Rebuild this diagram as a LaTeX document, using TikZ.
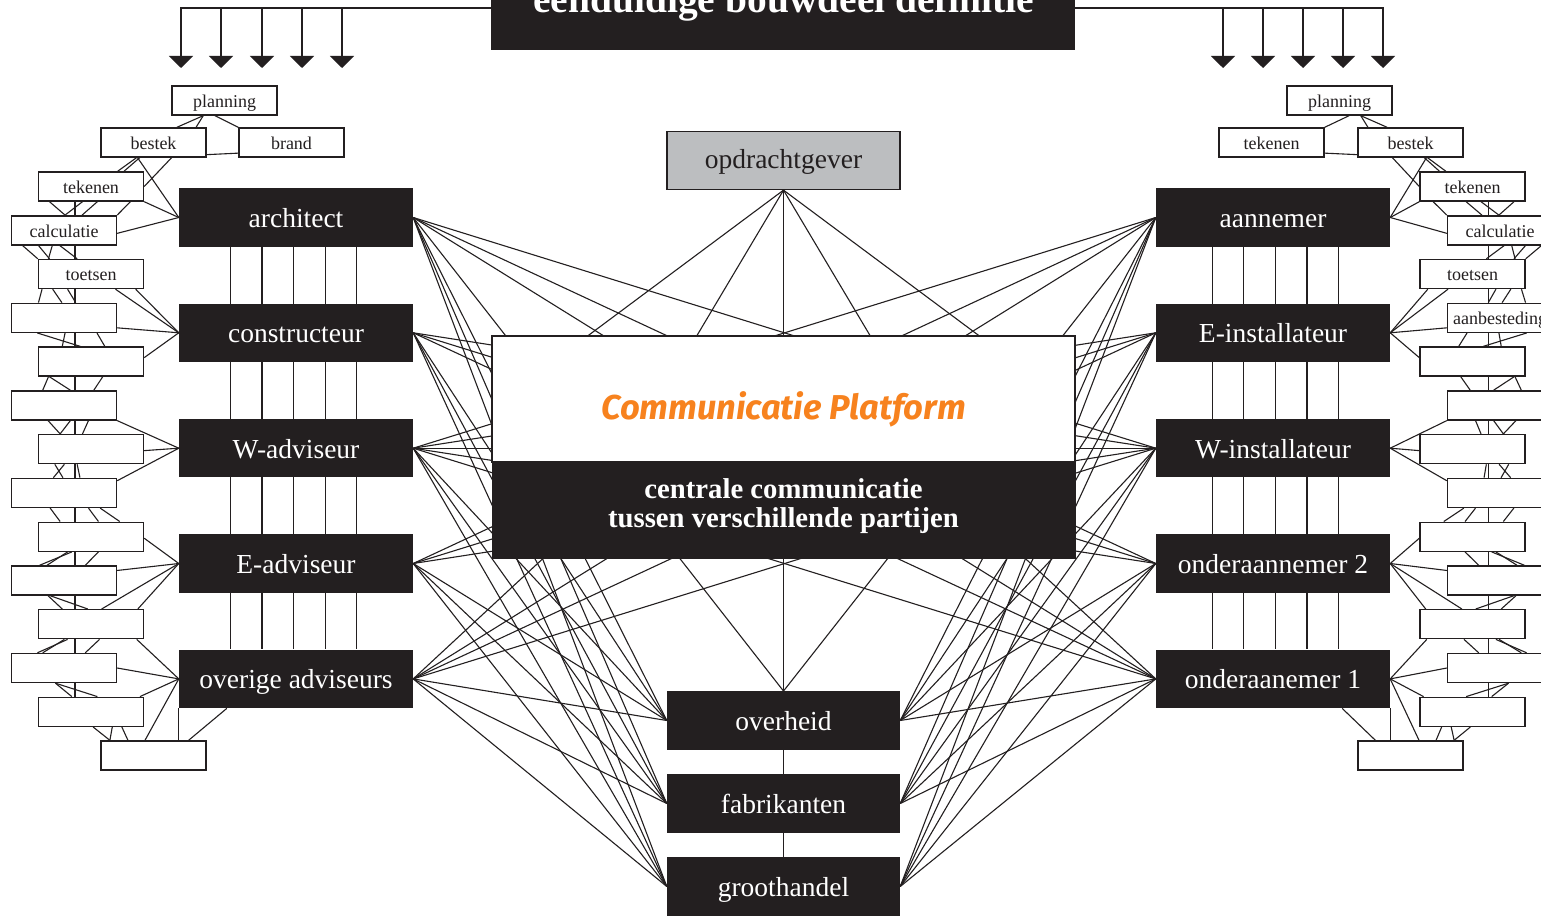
\documentclass[tikz,border=0pt]{standalone}
\usepackage{fontspec}
\setmainfont{Liberation Serif}
\newfontfamily\firafont{Fira Sans}
\usetikzlibrary{arrows.meta,calc}
\definecolor{ink}{HTML}{231F20}
\definecolor{grayfill}{HTML}{BCBEC0}
\definecolor{orng}{HTML}{F7821E}
\pgfdeclarelayer{bg}
\pgfsetlayers{bg,main}
\def\sW{west}\def\sE{east}
\newcommand\lnkS[4]{\draw[wire] ($(#1.south \sW)!#2!(#1.south \sE)$) -- ($(#3.north \sW)!#4!(#3.north \sE)$);}
\newcommand\fanS[3]{\draw[wire] ($(#1.north \sE)!#2!(#1.south \sE)$) -- (#3.\sW);}
\newcommand\fanB[3]{\draw[wire] ($(#1.south \sW)!#2!(#1.south \sE)$) -- (#3.\sW);}
\newcommand\fanT[3]{\draw[wire] ($(#1.north \sW)!#2!(#1.north \sE)$) -- (#3.\sW);}
\newcommand\sidegroup[1]{%
 \lnkS{#1p}{0.30}{#1o}{0.72}
 \lnkS{#1p}{0.30}{#1o}{0.90}
 \lnkS{#1p}{0.41}{#1i}{0.0}
 \draw[wire] ($(#1o.north \sE)!0.9!(#1o.south \sE)$) -- ($(#1i.north \sW)!0.85!(#1i.south \sW)$);
 \lnkS{#1o}{0.34}{#1s1}{0.75}
 \lnkS{#1o}{0.37}{#1s1}{0.81}
 \draw[wire] ($(#1o.south \sW)!0.67!(#1o.south \sE)$) -- ($(#1s1.north \sE)!0.5!(#1s1.south \sE)$);
 \fanB{#1o}{0.35}{#1B1}
 \draw[wire] ($(#1s1.south \sW)!0.35!(#1s1.south \sE)$) -- ($(#1s13.north \sW)!0.35!(#1s13.north \sE)$);
 \lnkS{#1s1}{0.11}{#1s2}{0.51}
 \lnkS{#1s1}{0.42}{#1s2}{0.51}
 \lnkS{#1s1}{0.56}{#1s2}{0.67}
 \lnkS{#1s1}{0.87}{#1s2}{1.0}
 \lnkS{#1s2}{0.11}{#1s3}{0.0}
 \lnkS{#1s2}{0.26}{#1s3}{0.11}
 \lnkS{#1s2}{0.39}{#1s3}{0.10}
 \lnkS{#1s2}{0.46}{#1s3}{0.37}
 \lnkS{#1s3}{0.04}{#1s4}{0.26}
 \lnkS{#1s3}{0.14}{#1s4}{0.48}
 \lnkS{#1s3}{0.28}{#1s4}{0.61}
 \lnkS{#1s4}{0.25}{#1s5}{0.40}
 \lnkS{#1s4}{0.51}{#1s5}{0.23}
 \lnkS{#1s4}{0.81}{#1s5}{0.63}
 \lnkS{#1s5}{0.10}{#1s6}{0.30}
 \lnkS{#1s5}{0.11}{#1s6}{0.56}
 \lnkS{#1s5}{0.61}{#1s6}{0.78}
 \lnkS{#1s6}{0.35}{#1s7}{0.21}
 \lnkS{#1s6}{0.56}{#1s7}{0.21}
 \lnkS{#1s6}{0.73}{#1s7}{0.42}
 \lnkS{#1s7}{0.25}{#1s8}{0.40}
 \lnkS{#1s7}{0.16}{#1s8}{0.49}
 \lnkS{#1s7}{0.37}{#1s8}{0.65}
 \lnkS{#1s8}{0.37}{#1s9}{0.21}
 \lnkS{#1s8}{0.73}{#1s9}{0.57}
 \lnkS{#1s8}{0.84}{#1s9}{0.77}
 \lnkS{#1s9}{0.32}{#1s10}{0.27}
 \lnkS{#1s9}{0.28}{#1s10}{0.34}
 \lnkS{#1s9}{0.57}{#1s10}{0.70}
 \lnkS{#1s10}{0.35}{#1s11}{0.23}
 \lnkS{#1s10}{0.37}{#1s11}{0.47}
 \lnkS{#1s11}{0.28}{#1s12}{0.25}
 \lnkS{#1s11}{0.25}{#1s12}{0.30}
 \lnkS{#1s11}{0.58}{#1s12}{0.70}
 \lnkS{#1s12}{0.42}{#1s13}{0.32}
 \lnkS{#1s12}{0.42}{#1s13}{0.56}
 \lnkS{#1s13}{0.52}{#1s14}{0.09}
 \lnkS{#1s13}{0.70}{#1s14}{0.09}
 \lnkS{#1s13}{0.79}{#1s14}{0.26}
 \fanS{#1s1}{1.0}{#1B1}
 \fanS{#1s2}{0.6}{#1B1}
 \fanB{#1s3}{0.73}{#1B2}
 \fanB{#1s3}{0.92}{#1B2}
 \fanS{#1s4}{0.83}{#1B2}
 \fanS{#1s5}{0.37}{#1B2}
 \fanS{#1s6}{1.0}{#1B3}
 \fanS{#1s7}{0.55}{#1B3}
 \fanS{#1s8}{0.1}{#1B3}
 \fanS{#1s9}{0.55}{#1B4}
 \fanS{#1s10}{0.17}{#1B4}
 \fanT{#1s11}{0.6}{#1B4}
 \fanT{#1s11}{0.94}{#1B4}
 \fanB{#1s11}{0.93}{#1B5}
 \fanS{#1s12}{0.5}{#1B5}
 \fanT{#1s13}{0.96}{#1B5}
 \fanT{#1s14}{0.42}{#1B5}
 \draw[wire] (#1B5.south \sW) -- (#1B5.south \sW |- #1s14.north);
 \draw[wire] ($(#1B5.south \sW)!0.205!(#1B5.south \sE)$) -- ($(#1s14.north \sW)!0.83!(#1s14.north \sE)$);
 \foreach \f in {0.22,0.355,0.49,0.625,0.76}
   \draw[wire] ($(#1B1.south \sW)!\f!(#1B1.south \sE)$) -- ($(#1B5.north \sW)!\f!(#1B5.north \sE)$);
}
\begin{document}
\begin{tikzpicture}[x=1pt,y=-1pt,
  wire/.style={draw=ink,line width=1.1pt},
  blk/.style={fill=ink,draw=none,text=white,minimum width=234pt,minimum height=58.5pt,inner sep=0pt,text height=25pt,text depth=5pt,font=\fontsize{27.5}{30}\selectfont},
  sbox/.style={draw=ink,line width=1.4pt,fill=white,text=ink,minimum width=105pt,minimum height=29pt,inner sep=0pt,text height=17pt,text depth=3.4pt,font=\fontsize{18}{20}\selectfont},
  arr/.style={draw=ink,line width=1.5pt,-{Triangle[width=24pt,length=12pt]}}]
\useasboundingbox (0,0) rectangle (1541,915);
\clip (0,0) rectangle (1541,915);
% title
\node[fill=ink,minimum width=584pt,minimum height=84pt,inner sep=0pt] (T) at (783,8) {};
\node[anchor=base,text=white,font=\bfseries\fontsize{39.5}{42}\selectfont] (Tt) at (783.5,13) {eenduidige bouwdeel definitie};
% arrow tips
\foreach \n/\x in {1/181,2/221,3/262,4/302,5/342} \coordinate (al\n) at (\x,68);
\foreach \n/\x in {1/1383,2/1343,3/1303,4/1263,5/1223} \coordinate (ar\n) at (\x,68);
% black boxes
\node[blk] (lB1) at (296,217.5) {architect};
\node[blk] (lB2) at (296,332.8) {constructeur};
\node[blk] (lB3) at (296,448.2) {W-adviseur};
\node[blk] (lB4) at (296,563.5) {E-adviseur};
\node[blk] (lB5) at (296,678.9) {overige adviseurs};
\node[blk] (rB1) at (1273,217.5) {aannemer};
\node[blk] (rB2) at (1273,332.8) {E-installateur};
\node[blk] (rB3) at (1273,448.2) {W-installateur};
\node[blk] (rB4) at (1273,563.5) {onderaannemer 2};
\node[blk] (rB5) at (1273,678.9) {onderaanemer 1};
% center
\node[draw=ink,line width=1.3pt,fill=grayfill,text=ink,minimum width=233pt,minimum height=58pt,inner sep=0pt,text height=20.6pt,text depth=5pt,font=\fontsize{27.5}{30}\selectfont] (O) at (783.5,160.5) {opdrachtgever};
\node[draw=ink,line width=1.2pt,fill=white,minimum width=583pt,minimum height=126pt,inner sep=0pt] (PW) at (783.5,399) {};
\node[fill=ink,minimum width=584pt,minimum height=97pt,inner sep=0pt] (PB) at (783.5,510.5) {};
\node[anchor=base,text=orng,font=\firafont\bfseries\itshape\fontsize{34.5}{38}\selectfont] (PWt) at (783.5,419) {Communicatie Platform};
\node[anchor=base,text=white,font=\bfseries\fontsize{28.7}{31}\selectfont] (PB1) at (783.5,498) {centrale communicatie};
\node[anchor=base,text=white,font=\bfseries\fontsize{28.7}{31}\selectfont] (PB2) at (783.5,527) {tussen verschillende partijen};
\node[blk,minimum width=233pt] (OV) at (783.5,720.5) {overheid};
\node[blk,minimum width=233pt] (F) at (783.5,803.5) {fabrikanten};
\node[blk,minimum width=233pt] (G) at (783.5,886.5) {groothandel};
% small boxes left
\node[sbox] (lp) at (224.5,100.5) {planning};
\node[sbox] (lo) at (153.5,142.5) {bestek};
\node[sbox] (li) at (291.5,142.5) {brand};
\node[sbox] (ls1) at (91,186.5) {tekenen};
\node[sbox] (ls2) at (64,230.3) {calculatie};
\node[sbox] (ls3) at (91,274) {toetsen};
\node[sbox] (ls4) at (64,317.8) {};
\node[sbox] (ls5) at (91,361.6) {};
\node[sbox] (ls6) at (64,405.4) {};
\node[sbox] (ls7) at (91,449.1) {};
\node[sbox] (ls8) at (64,492.9) {};
\node[sbox] (ls9) at (91,536.7) {};
\node[sbox] (ls10) at (64,580.5) {};
\node[sbox] (ls11) at (91,624.2) {};
\node[sbox] (ls12) at (64,668) {};
\node[sbox] (ls13) at (91,711.8) {};
\node[sbox] (ls14) at (153.5,755.5) {};
% small boxes right
\node[sbox] (rp) at (1339.5,100.5) {planning};
\node[sbox] (ro) at (1410.5,142.5) {bestek};
\node[sbox] (ri) at (1271.5,142.5) {tekenen};
\node[sbox] (rs1) at (1472.5,186.5) {tekenen};
\node[sbox] (rs2) at (1500,230.3) {calculatie};
\node[sbox] (rs3) at (1472.5,274) {toetsen};
\node[sbox] (rs4) at (1500,317.8) {aanbesteding};
\node[sbox] (rs5) at (1472.5,361.6) {};
\node[sbox] (rs6) at (1500,405.4) {};
\node[sbox] (rs7) at (1472.5,449.1) {};
\node[sbox] (rs8) at (1500,492.9) {};
\node[sbox] (rs9) at (1472.5,536.7) {};
\node[sbox] (rs10) at (1500,580.5) {};
\node[sbox] (rs11) at (1472.5,624.2) {};
\node[sbox] (rs12) at (1500,668) {};
\node[sbox] (rs13) at (1472.5,711.8) {};
\node[sbox] (rs14) at (1410.5,755.5) {};
\begin{pgfonlayer}{bg}
\fill[white] (0,0) rectangle (1541,915);
% top arrows
\draw[arr] (T.west) -| (al1);
\foreach \n in {2,...,5} \draw[arr] (al\n |- T.west) -- (al\n);
\draw[arr] (T.east) -| (ar1);
\foreach \n in {2,...,5} \draw[arr] (ar\n |- T.east) -- (ar\n);
% side groups
\def\sW{west}\def\sE{east}
\sidegroup{l}
\def\sW{east}\def\sE{west}
\sidegroup{r}
% centre web (passing behind the platform)
\foreach \i/\j in {1/3,1/4,1/5,2/3,2/4,2/5,3/1,3/2,3/3,3/4,3/5,4/1,4/2,4/3,5/1,5/2,5/3}
  \draw[wire] (lB\i.east) -- (rB\j.west);
\foreach \i in {1,...,5} \foreach \c in {OV,F,G} {
  \draw[wire] (lB\i.east) -- (\c.west);
  \draw[wire] (rB\i.west) -- (\c.east);
}
\draw[wire] (lB1.east) -- (OV.north);
\draw[wire] (rB1.west) -- (OV.north);
\draw[wire] (lB5.east) -- (PW.north);
\draw[wire] (rB5.west) -- (PW.north);
\draw[wire] (O.south) -- (OV.north);
\foreach \t in {0.166,0.352,0.648,0.834}
  \draw[wire] (O.south) -- ($(PW.north west)!\t!(PW.north east)$);
\draw[wire] (OV.south) -- (F.north);
\draw[wire] (F.south) -- (G.north);
\end{pgfonlayer}
\end{tikzpicture}
\end{document}
